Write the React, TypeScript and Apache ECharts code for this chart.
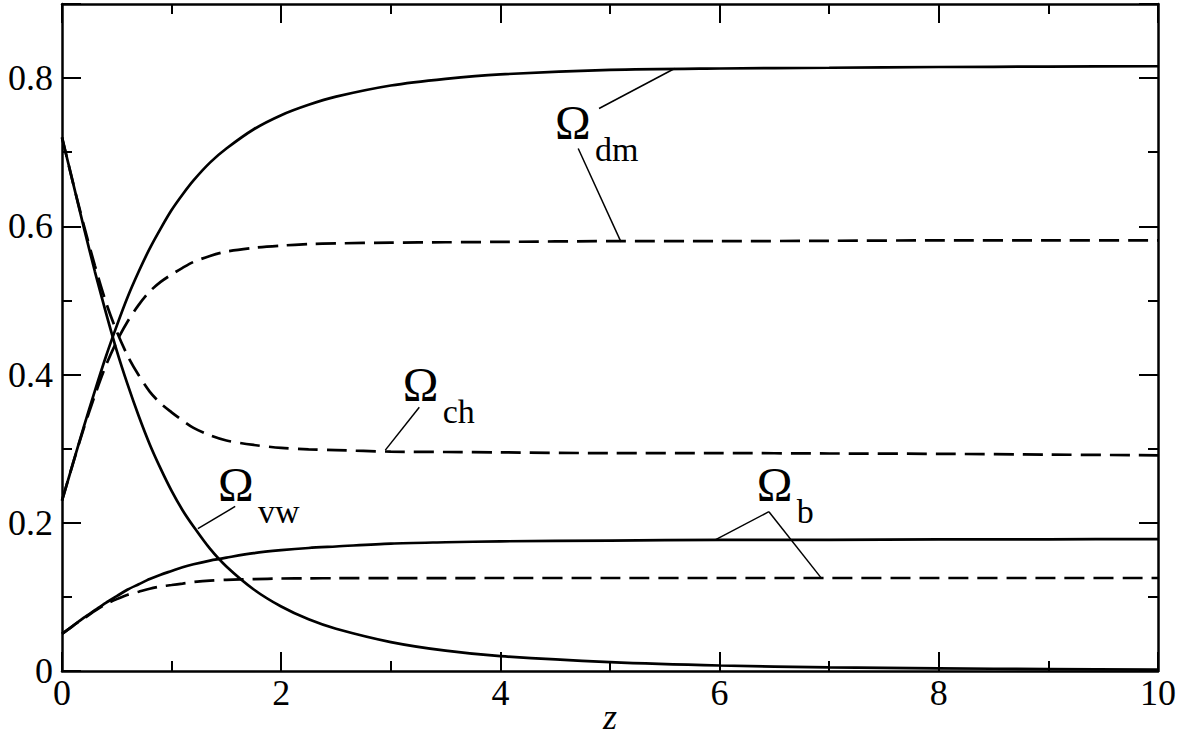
import React, { useEffect, useRef } from 'react';
import * as echarts from 'echarts';

// redshift samples and density parameters
const zValues = [0, 0.1, 0.2, 0.3, 0.4, 0.5, 0.6, 0.7, 0.8, 0.9, 1.0, 1.1, 1.2, 1.35, 1.5, 1.75, 2, 2.25, 2.5, 3, 3.5, 4, 5, 6, 7, 8, 9, 10];
const dmSolid = [0.23, 0.28, 0.33, 0.378, 0.424, 0.466, 0.505, 0.539, 0.57, 0.597, 0.622, 0.643, 0.662, 0.686, 0.705, 0.731, 0.75, 0.764, 0.775, 0.79, 0.799, 0.805, 0.811, 0.813, 0.814, 0.815, 0.8155, 0.816];
const dmDashed = [0.23, 0.28, 0.328, 0.372, 0.412, 0.445, 0.472, 0.494, 0.512, 0.525, 0.535, 0.544, 0.552, 0.56, 0.566, 0.571, 0.574, 0.576, 0.577, 0.578, 0.5785, 0.579, 0.58, 0.58, 0.5805, 0.581, 0.581, 0.581];
const chDashed = [0.72, 0.659, 0.601, 0.547, 0.498, 0.458, 0.425, 0.399, 0.377, 0.361, 0.349, 0.338, 0.328, 0.318, 0.311, 0.305, 0.301, 0.299, 0.298, 0.296, 0.2955, 0.295, 0.294, 0.294, 0.2935, 0.293, 0.292, 0.291];
const vwSolid = [0.72, 0.659, 0.598, 0.539, 0.484, 0.432, 0.386, 0.344, 0.306, 0.273, 0.243, 0.217, 0.195, 0.165, 0.141, 0.11, 0.087, 0.0697, 0.057, 0.039, 0.0274, 0.02, 0.012, 0.0074, 0.005, 0.0035, 0.0026, 0.0019];
const bSolid = [0.05, 0.061, 0.072, 0.082, 0.092, 0.101, 0.11, 0.117, 0.124, 0.13, 0.135, 0.14, 0.144, 0.149, 0.153, 0.159, 0.163, 0.166, 0.168, 0.172, 0.1737, 0.175, 0.176, 0.177, 0.177, 0.1775, 0.1777, 0.178];
const bDashed = [0.05, 0.061, 0.071, 0.081, 0.09, 0.097, 0.103, 0.107, 0.111, 0.114, 0.116, 0.118, 0.12, 0.122, 0.123, 0.124, 0.1248, 0.1251, 0.1252, 0.1254, 0.1254, 0.1255, 0.1255, 0.1255, 0.1255, 0.1255, 0.1255, 0.1255];

// annotation labels (subscripts) and where the Omega sits, in data units
const labelSubs = ['dm', 'ch', 'vw', 'b'];
const labelAnchors = [[4.498, 0.74], [3.109, 0.386], [1.423, 0.252], [6.338, 0.251]];
const pointerLines = [
  [[4.9, 0.759], [5.59, 0.813]],
  [[4.71, 0.705], [5.1, 0.579]],
  [[3.26, 0.356], [2.95, 0.298]],
  [[1.58, 0.222], [1.24, 0.192]],
  [[6.45, 0.215], [5.96, 0.177]],
  [[6.45, 0.215], [6.93, 0.125]],
];

const FONT = "'Liberation Serif', 'Times New Roman', serif";
const DASH = [20, 9];

const pairs = (ys: number[]) => zValues.map((z, i) => [z, ys[i]]);

const App: React.FC = () => {
  const chartRef = useRef<HTMLDivElement>(null);

  useEffect(() => {
    document.body.style.margin = '0';
    if (!chartRef.current) return;
    const chart = echarts.init(chartRef.current, null, { renderer: 'svg' });

    const tick = { inside: true, length: 19, lineStyle: { color: '#000', width: 2 } };
    const minor = { show: true, splitNumber: 2, length: 10, lineStyle: { color: '#000', width: 2 } };
    const axLine = { onZero: false, lineStyle: { color: '#000', width: 2.5 } };
    const lbl = { fontFamily: FONT, fontSize: 36, color: '#000' };

    const curve = (data: number[], dashed: boolean) => ({
      type: 'line',
      data: pairs(data),
      showSymbol: false,
      smooth: 0.3,
      silent: true,
      lineStyle: { color: '#000', width: 2.7, type: dashed ? DASH : 'solid' },
    });

    const option: any = {
      animation: false,
      backgroundColor: '#fff',
      textStyle: { fontFamily: FONT },
      grid: { left: 62, right: 23, top: 4, bottom: 71, containLabel: false, outerBoundsMode: 'none' },
      xAxis: [
        {
          type: 'value', min: 0, max: 10, interval: 2, position: 'bottom',
          name: 'z', nameLocation: 'middle', nameGap: 46, nameMoveOverlap: false,
          nameTextStyle: { fontFamily: FONT, fontStyle: 'italic', fontSize: 36, color: '#000', verticalAlign: 'middle' },
          axisLine: axLine, axisTick: tick, minorTick: minor,
          axisLabel: { ...lbl, margin: 4 },
          splitLine: { show: false },
        },
        {
          type: 'value', min: 0, max: 10, interval: 2, position: 'top',
          axisLine: axLine, axisTick: tick, minorTick: minor,
          axisLabel: { show: false }, splitLine: { show: false },
        },
      ],
      yAxis: [
        {
          type: 'value', min: 0, max: 0.9, interval: 0.2, position: 'left',
          axisLine: axLine, axisTick: tick, minorTick: minor,
          axisLabel: { ...lbl, margin: 9, showMaxLabel: false, formatter: (v: number) => (v === 0 ? '0' : v.toFixed(1)) },
          splitLine: { show: false },
        },
        {
          type: 'value', min: 0, max: 0.9, interval: 0.2, position: 'right',
          axisLine: axLine, axisTick: tick, minorTick: minor,
          axisLabel: { show: false }, splitLine: { show: false },
        },
      ],
      series: [
        curve(dmSolid, false),
        curve(dmDashed, true),
        curve(chDashed, true),
        curve(vwSolid, false),
        curve(bSolid, false),
        curve(bDashed, true),
        ...pointerLines.map((seg) => ({
          type: 'line',
          data: seg,
          showSymbol: false,
          silent: true,
          lineStyle: { color: '#000', width: 1.5 },
        })),
      ],
    };
    chart.setOption(option);

    const graphic: any[] = [];
    labelAnchors.forEach((a, i) => {
      const p = chart.convertToPixel({ xAxisIndex: 0, yAxisIndex: 0 }, a) as number[];
      graphic.push({
        type: 'text', x: p[0], y: p[1], silent: true,
        style: { text: 'Ω', fontFamily: FONT, fontSize: 48, fill: '#000', align: 'left', verticalAlign: 'middle' },
      });
      graphic.push({
        type: 'text', x: p[0] + 40, y: p[1] + 27, silent: true,
        style: { text: labelSubs[i], fontFamily: FONT, fontSize: 34, fill: '#000', align: 'left', verticalAlign: 'middle' },
      });
    });
    chart.setOption({ graphic });

    return () => {
      chart.dispose();
    };
  }, []);

  return <div ref={chartRef} style={{ width: 1181, height: 742 }} />;
};

export default App;
